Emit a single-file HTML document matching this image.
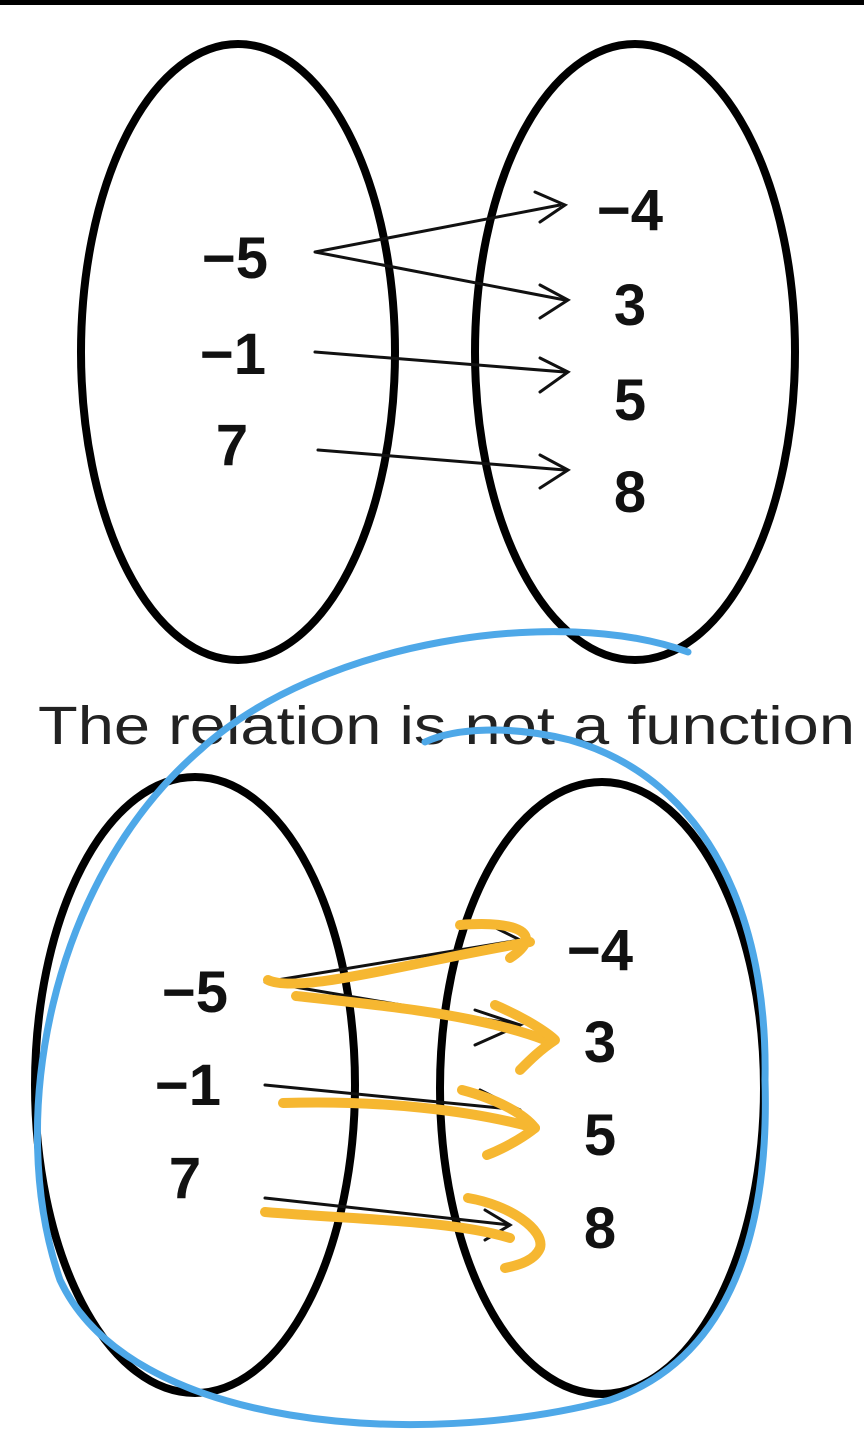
<!DOCTYPE html>
<html><head><meta charset="utf-8"><style>
html,body{margin:0;padding:0;background:#fff;}
svg{display:block;}
</style></head><body>
<svg width="864" height="1446" viewBox="0 0 864 1446" xmlns="http://www.w3.org/2000/svg">
<rect width="864" height="1446" fill="#fff"/>
<rect x="0" y="0" width="864" height="5" fill="#000"/>
<g fill="none" stroke="#000" stroke-width="8">
<ellipse cx="238" cy="352" rx="157" ry="308"/>
<ellipse cx="635" cy="352" rx="160" ry="308"/>
<ellipse cx="195" cy="1085" rx="160" ry="308"/>
<ellipse cx="602" cy="1088" rx="162" ry="306"/>
</g>
<g fill="none" stroke="#111" stroke-width="3" stroke-linecap="round">
<path d="M315 252 L560 205 M315 252 L565 300 M315 352 L565 372 M318 450 L565 470"/>
<path d="M535 192 L565 205 L540 222 M540 285 L568 300 L540 318 M540 358 L568 372 L540 392 M540 455 L568 470 L540 488"/>
<path d="M265 982 L520 940 M265 982 L520 1025 M265 1085 L520 1110 M265 1198 L510 1225"/>
<path d="M490 925 L520 940 M475 1010 L520 1025 L475 1045 M480 1090 L520 1110 M485 1210 L510 1225 L485 1240"/>
</g>
<g font-family="Liberation Sans, sans-serif" font-weight="bold" font-size="58" fill="#111" text-anchor="middle">
<text x="235" y="278">−5</text>
<text x="233" y="374">−1</text>
<text x="232" y="465">7</text>
<text x="630" y="230">−4</text>
<text x="630" y="325">3</text>
<text x="630" y="420">5</text>
<text x="630" y="512">8</text>
<text x="195" y="1012">−5</text>
<text x="188" y="1105">−1</text>
<text x="185" y="1198">7</text>
<text x="600" y="970">−4</text>
<text x="600" y="1062">3</text>
<text x="600" y="1155">5</text>
<text x="600" y="1248">8</text>
</g>
<text x="38" y="744" font-family="Liberation Sans, sans-serif" font-size="54" fill="#222" textLength="817" lengthAdjust="spacingAndGlyphs">The relation is not a function</text>
<g fill="none" stroke="#f6b731" stroke-width="10" stroke-linecap="round" stroke-linejoin="round">
<path d="M268 980 C300 995 420 960 530 942"/>
<path d="M460 925 C520 920 545 935 510 958"/>
<path d="M296 996 C380 1005 480 1015 545 1040"/>
<path d="M495 1005 C530 1020 550 1035 555 1040 C540 1050 530 1060 520 1070"/>
<path d="M283 1103 C380 1100 470 1110 535 1128"/>
<path d="M462 1090 C500 1100 525 1115 535 1128 C520 1140 500 1150 487 1155"/>
<path d="M265 1212 C360 1220 450 1220 510 1238"/>
<path d="M468 1198 C510 1205 545 1230 540 1248 C535 1260 520 1265 505 1268"/>
</g>
<path d="M688 652 C560 605 320 640 200 750 C50 880 5 1120 60 1280 C130 1430 420 1450 610 1400 C755 1350 768 1180 765 1080 C768 920 710 780 570 740 C510 725 455 728 425 742" fill="none" stroke="#4ea8e8" stroke-width="7" stroke-linecap="round"/>
</svg>
</body></html>
